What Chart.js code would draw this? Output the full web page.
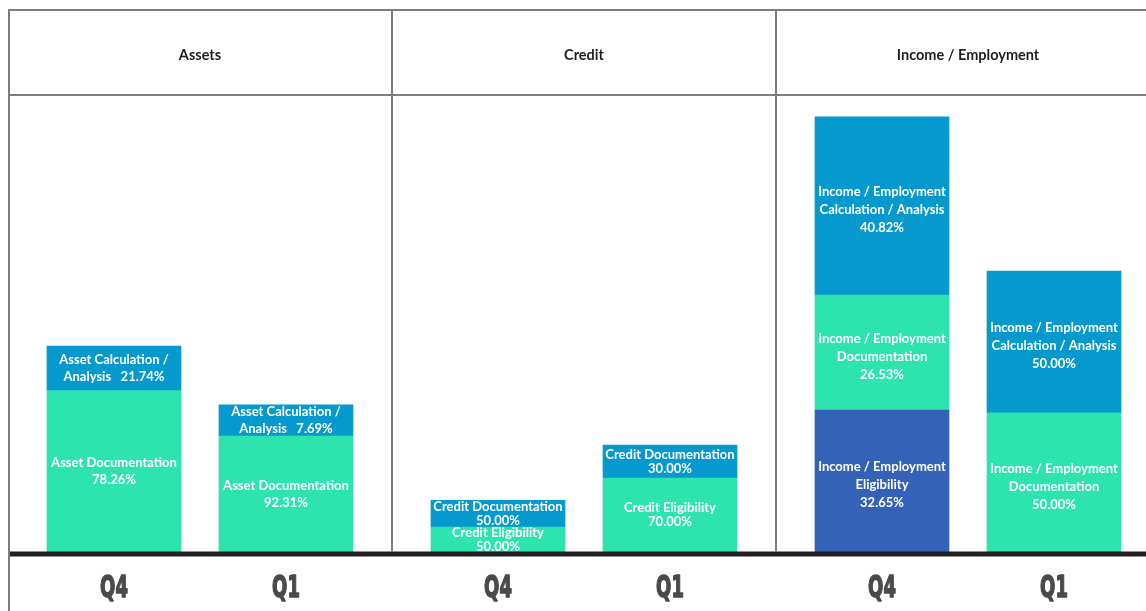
<!DOCTYPE html>
<html>
<head>
<meta charset="utf-8">
<script src="https://cdn.jsdelivr.net/npm/chart.js@4"></script>
<style>
  body { margin: 0; background: #fff; width: 1146px; height: 611px; overflow: hidden; position: relative; }
  .painel { position: absolute; top: 9px; width: 384px; height: 602px; }
  .linha { position: absolute; background: #7d7d7d; z-index: 2; }
</style>
</head>
<body>

<div class="painel" style="left:8px"><canvas id="g0" width="384" height="602"></canvas></div>
<div class="painel" style="left:392px"><canvas id="g1" width="384" height="602"></canvas></div>
<div class="painel" style="left:776px"><canvas id="g2" width="384" height="602"></canvas></div>

<div class="linha" style="left:8px;top:9px;width:1138px;height:2px"></div>
<div class="linha" style="left:8px;top:94px;width:1138px;height:2px"></div>
<div class="linha" style="left:8px;top:9px;width:2px;height:602px"></div>
<div class="linha" style="left:391px;top:9px;width:2px;height:543px"></div>
<div class="linha" style="left:775px;top:9px;width:2px;height:543px"></div>

<script>
/* =========================================================
   DADOS
========================================================= */

const titulos = ['Assets', 'Credit', 'Income / Employment'];
const trimestres = ['Q4', 'Q1'];

// Assets (altura dos segmentos)
const assetDocumentation = [18.1, 13.0];
const assetCalculation = [5.0, 3.5];
const assetDocPct = ['78.26%', '92.31%'];
const assetCalcPct = ['21.74%', '7.69%'];

// Credit
const creditEligibility = [2.8, 8.3];
const creditDocumentation = [3.0, 3.7];
const creditEligPct = ['50.00%', '70.00%'];
const creditDocPct = ['50.00%', '30.00%'];

// Income / Employment
const incomeEligibility = [15.9, 0];
const incomeDocumentation = [12.9, 15.6];
const incomeCalculation = [20.0, 15.9];
const incomeEligPct = ['32.65%', null];
const incomeDocPct = ['26.53%', '50.00%'];
const incomeCalcPct = ['40.82%', '50.00%'];

const yMax = 51.2;


/* =========================================================
   CORES
========================================================= */

const verde = '#2de4af';
const azul = '#0599cd';
const marinho = '#3462b7';


/* =========================================================
   DATASETS POR PAINEL
========================================================= */

const rotulo = (pcts, montar) => pcts.map(p => p ? montar(p) : null);

const paineis = [
  {
    entrelinha: 17,
    deslocamento: 0,
    datasets: [
      { data: assetDocumentation, backgroundColor: verde,
        rotulos: rotulo(assetDocPct, p => ['Asset Documentation', p]) },
      { data: assetCalculation, backgroundColor: azul,
        rotulos: rotulo(assetCalcPct, p => ['Asset Calculation /', 'Analysis   ' + p]) }
    ]
  },
  {
    entrelinha: 14,
    deslocamento: 0,
    datasets: [
      { data: creditEligibility, backgroundColor: verde,
        rotulos: rotulo(creditEligPct, p => ['Credit Eligibility', p]) },
      { data: creditDocumentation, backgroundColor: azul,
        rotulos: rotulo(creditDocPct, p => ['Credit Documentation', p]) }
    ]
  },
  {
    entrelinha: 18,
    deslocamento: 4,
    datasets: [
      { data: incomeEligibility, backgroundColor: marinho,
        rotulos: rotulo(incomeEligPct, p => ['Income / Employment', 'Eligibility', p]) },
      { data: incomeDocumentation, backgroundColor: verde,
        rotulos: rotulo(incomeDocPct, p => ['Income / Employment', 'Documentation', p]) },
      { data: incomeCalculation, backgroundColor: azul,
        rotulos: rotulo(incomeCalcPct, p => ['Income / Employment', 'Calculation / Analysis', p]) }
    ]
  }
];


/* =========================================================
   PLUGINS
========================================================= */

// texto branco dentro de cada segmento
const rotulosPlugin = {
  id: 'rotulos',
  afterDatasetsDraw(chart, args, opts) {
    const ctx = chart.ctx;
    ctx.save();
    ctx.fillStyle = '#ffffff';
    ctx.font = 'bold 13px Lato, "Open Sans", sans-serif';
    ctx.textAlign = 'center';
    ctx.textBaseline = 'middle';

    chart.data.datasets.forEach((ds, i) => {
      chart.getDatasetMeta(i).data.forEach((barra, j) => {
        const linhas = ds.rotulos[j];
        if (!linhas) return;
        const meio = (barra.y + barra.base) / 2 + opts.deslocamento;
        const inicio = meio - (linhas.length - 1) * opts.entrelinha / 2;
        linhas.forEach((t, k) => ctx.fillText(t, barra.x, inicio + k * opts.entrelinha));
      });
    });
    ctx.restore();
  }
};

// linha grossa da base + Q4 / Q1 em fonte condensada
const basePlugin = {
  id: 'base',
  afterDraw(chart) {
    const ctx = chart.ctx;
    const fundo = chart.chartArea.bottom;
    ctx.save();
    ctx.fillStyle = '#231f20';
    ctx.fillRect(0, fundo - 0.5, chart.width, 5);

    const eixo = chart.scales.x;
    ctx.fillStyle = '#4a4a4a';
    ctx.strokeStyle = '#4a4a4a';
    ctx.lineWidth = 1.6;
    ctx.lineJoin = 'round';
    ctx.font = 'bold 30px "DejaVu Sans", sans-serif';
    ctx.textAlign = 'center';
    ctx.textBaseline = 'middle';
    chart.data.labels.forEach((rot, i) => {
      ctx.save();
      ctx.translate(eixo.getPixelForTick(i), fundo + 37);
      ctx.scale(0.6, 1);
      ctx.fillText(rot, 0, 0);
      ctx.strokeText(rot, 0, 0);
      ctx.restore();
    });
    ctx.restore();
  }
};


/* =========================================================
   CRIA GRÁFICOS
========================================================= */

paineis.forEach((painel, i) => {
  new Chart(document.getElementById('g' + i), {
    type: 'bar',
    data: {
      labels: trimestres,
      datasets: painel.datasets.map(ds => ({
        ...ds,
        borderWidth: 0,
        barThickness: 134
      }))
    },
    options: {
      responsive: false,
      animation: false,
      devicePixelRatio: 1,
      layout: { padding: { left: 20, right: 20, bottom: 59 } },
      plugins: {
        legend: { display: false },
        tooltip: { enabled: false },
        title: {
          display: true,
          text: titulos[i],
          color: '#1f1f1f',
          font: { family: 'Lato, "Open Sans", sans-serif', size: 14.5, weight: 'bold' },
          padding: { top: 38, bottom: 31 }
        },
        rotulos: { entrelinha: painel.entrelinha, deslocamento: painel.deslocamento }
      },
      scales: {
        x: {
          stacked: true,
          offset: true,
          display: false
        },
        y: {
          stacked: true,
          display: false,
          min: 0,
          max: yMax
        }
      }
    },
    plugins: [rotulosPlugin, basePlugin]
  });
});
</script>
</body>
</html>
